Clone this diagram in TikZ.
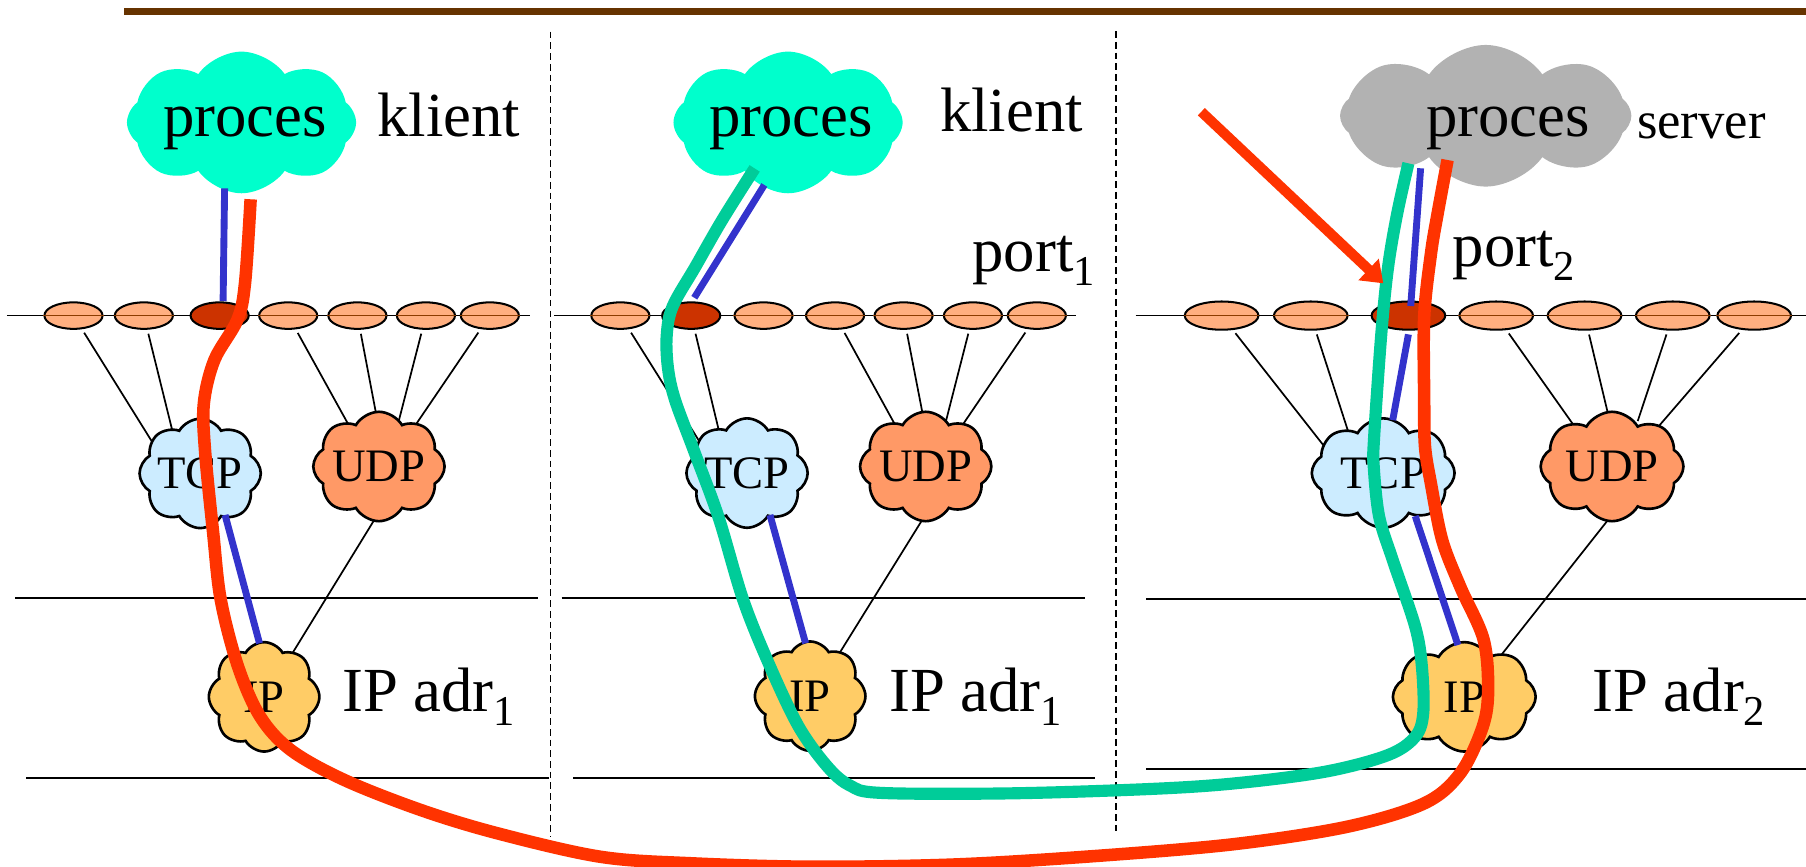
\documentclass[tikz,border=0pt]{standalone}
\usepackage{fontspec}
\setmainfont{Liberation Serif}
\usetikzlibrary{shapes.symbols,shapes.geometric,arrows.meta,calc}
\pgfdeclarelayer{bg}
\pgfsetlayers{bg,main}

\definecolor{barbrown}{HTML}{663300}
\definecolor{proccyan}{HTML}{00FFCC}
\definecolor{procgrey}{HTML}{B2B2B2}
\definecolor{tcpblue}{HTML}{CCECFF}
\definecolor{udporange}{HTML}{FF9966}
\definecolor{ipyellow}{HTML}{FFCC66}
\definecolor{portfill}{HTML}{FFAF80}
\definecolor{portdark}{HTML}{CC3300}
\definecolor{portline}{HTML}{8C3C00}
\definecolor{flowred}{HTML}{FF3300}
\definecolor{flowgreen}{HTML}{00CC99}
\definecolor{linkblue}{HTML}{3333CC}

\newcommand\subidx[1]{\raisebox{-7pt}{\fontsize{21}{21}\selectfont #1}}

\begin{document}
\begin{tikzpicture}[x=0.02cm,y=-0.02cm,
  txt/.style={inner sep=0pt, font=\fontsize{31}{36}\selectfont},
  smalltxt/.style={inner sep=0pt, font=\fontsize{26}{30}\selectfont},
  portA/.style={ellipse, draw, line width=1pt, fill=portfill, inner sep=0pt,
    minimum width=1.01cm, minimum height=0.46cm},
  portB/.style={portA, minimum width=1.28cm, minimum height=0.49cm},
  active/.style={fill=portdark},
  proccloud/.style={cloud, cloud puffs=8, cloud puff arc=110, cloud ignores aspect,
    inner sep=0pt, minimum width=3.98cm, minimum height=2.46cm},
  stackcloud/.style={cloud, cloud puffs=8, cloud puff arc=120, cloud ignores aspect,
    draw, line width=1.3pt, inner sep=0pt, minimum width=1.92cm, minimum height=1.9cm,
    font=\fontsize{23}{26}\selectfont},
  wide/.style={minimum width=2.48cm},
  link/.style={line width=0.85pt, shorten <=2pt, shorten >=-4pt},
  inner/.style={line width=0.85pt},
  layer/.style={line width=1pt},
  divider/.style={line width=0.9pt, dash pattern=on 3.3pt off 2pt},
  bl/.style={linkblue, line width=3.4pt},
  redflow/.style={flowred, line width=6.2pt, line join=round},
  greenflow/.style={flowgreen, line width=6pt, line join=round},
  pointer/.style={flowred, line width=5pt, -{Triangle[length=10pt,width=14pt]}}
]
\useasboundingbox (0,0) rectangle (1568,752);

% title rule and panel dividers
\draw[barbrown, line width=3.6pt] (108,10) -- (1568,10);
\draw[divider] (478,27.5) -- (478,727);
\draw[divider] (969,27) -- (969,722);

% port rows
\draw[inner] (6,274) -- (460,274);
\draw[inner] (481,274) -- (934,274);
\draw[inner] (986,274) -- (1568,274);

% layer boundaries
\draw[layer] (13.3,519.5) -- (466.8,519.5);
\draw[layer] (22.6,675.2) -- (476.8,675.2);
\draw[layer] (487.5,519.5) -- (941.7,519.5);
\draw[layer] (497.5,675.2) -- (951,675.2);
\draw[layer] (995.3,520.4) -- (1568,520.4);
\draw[layer] (995.3,668) -- (1568,668);

% ports, panel 1
\foreach \n/\x in {1/63.8,2/124.9,4/250.2,5/310.3,6/369.8,7/425.3}
  \node[portA] (a\n) at (\x,274) {};
\node[portA, active] (a3) at (190.7,274) {};
% ports, panel 2
\foreach \n/\x in {1/538.6,3/662.9,4/725,5/784.5,6/844.7,7/900.2}
  \node[portA] (b\n) at (\x,274) {};
\node[portA, active] (b2) at (600.1,274) {};
% ports, panel 3
\foreach \n/\x in {1/1060.6,2/1138,4/1299,5/1375.7,6/1452.3,7/1523}
  \node[portB] (c\n) at (\x,274) {};
\node[portB, active] (c3) at (1222.8,274) {};
% the row line shows through the light ports
\foreach \p in {a1,a2,a4,a5,a6,a7,b1,b3,b4,b5,b6,b7,c1,c2,c4,c5,c6,c7}
  \draw[portline, line width=0.8pt] (\p.west) -- (\p.east);

% process clouds
\node[proccloud, fill=proccyan] (pc1) at (209.7,106.3) {};
\node[proccloud, fill=proccyan] (pc2) at (684.2,106.3) {};
\node[proccloud, fill=procgrey, minimum width=5.06cm] (pc3) at (1289.9,100.5) {};
\node[txt, anchor=base] (pt1) at (212.6,118.7) {proces};
\node[txt, anchor=base] (pt2) at (686.8,118.7) {proces};
\node[txt, anchor=base] (pt3) at (1309.4,118.7) {proces};

% protocol clouds
\node[stackcloud, fill=tcpblue] (t1) at (173.8,411) {TCP};
\node[stackcloud, fill=udporange] (u1) at (329,405) {UDP};
\node[stackcloud, fill=ipyellow] (i1) at (229.3,605) {IP};
\node[stackcloud, fill=tcpblue] (t2) at (648.6,410.7) {TCP};
\node[stackcloud, fill=udporange] (u2) at (803.7,405) {UDP};
\node[stackcloud, fill=ipyellow] (i2) at (703.4,604.4) {IP};
\node[stackcloud, wide, fill=tcpblue] (t3) at (1200.9,410.7) {TCP};
\node[stackcloud, wide, fill=udporange] (u3) at (1399.6,405) {UDP};
\node[stackcloud, wide, fill=ipyellow] (i3) at (1271.3,605) {IP};

% where the port lines meet the clouds
\coordinate (ka1) at (130.2,380.6);
\coordinate (ka2) at (150.2,376.2);
\coordinate (ka4) at (304,371.3);
\coordinate (ka5) at (326.3,358);
\coordinate (ka6) at (347.9,358.9);
\coordinate (ka7) at (359.8,370.4);
\coordinate (kb1) at (605.2,380);
\coordinate (kb2) at (624.7,376.2);
\coordinate (kb4) at (778.5,371.3);
\coordinate (kb5) at (800.8,358);
\coordinate (kb6) at (823,358.9);
\coordinate (kb7) at (834.7,370.4);
\coordinate (kc1) at (1145.4,382);
\coordinate (kc2) at (1171.2,376.8);
\coordinate (kc4) at (1368.2,371.9);
\coordinate (kc5) at (1396,358.9);
\coordinate (kc6) at (1424.1,358.9);
\coordinate (kc7) at (1439.8,370.4);

\begin{pgfonlayer}{bg}
  \foreach \p in {a1,a2,a4,a5,a6,a7,b1,b2,b4,b5,b6,b7,c1,c2,c4,c5,c6,c7}
    \draw[link] (\p) -- (k\p);
  \draw[inner] ($(u1)+(-0.8,41.1)$) -- ($(i1)+(21.7,-33.2)$);
  \draw[inner] ($(u2)+(-0.3,42)$) -- ($(i2)+(22.5,-32.6)$);
  \draw[inner] ($(u3)+(-0.9,43.1)$) -- ($(i3)+(29.4,-32.9)$);
\end{pgfonlayer}

% labels
\node[txt, anchor=base west] (kl1) at (327.3,118.7) {klient};
\node[txt, anchor=base west] (kl2) at (815.8,114.3) {klient};
\node[smalltxt, anchor=base west] (sv) at (1421,120.1) {server};
\node[txt, anchor=base west] (po1) at (843.9,235.9) {port\subidx{1}};
\node[txt, anchor=base west] (po2) at (1261,231.5) {port\subidx{2}};
\node[txt, anchor=base west] (ad1) at (296.7,617.9) {IP adr\subidx{1}};
\node[txt, anchor=base west] (ad2) at (771.6,617.9) {IP adr\subidx{1}};
\node[txt, anchor=base west] (ad3) at (1382.2,617.9) {IP adr\subidx{2}};

% bound sockets
\draw[bl] ($(pc1)+(-14.7,57.2)$) -- ($(a3)+(3,-12.7)$);
\draw[bl] ($(t1)+(21.6,36.1)$) -- ($(i1)+(-4,-46.5)$);
\draw[bl] ($(pc2)+(-20.6,54.3)$) -- ($(b2)+(2.7,-15.5)$);
\draw[bl] ($(t2)+(19.9,36.4)$) -- ($(i2)+(-4,-45.9)$);
\draw[bl] ($(pc3)+(-56.5,45.6)$) -- ($(c3)+(2,-8.3)$);
\draw[bl] ($(c3)+(0,16.3)$) -- ($(t3)+(8.3,-46)$);
\draw[bl] ($(t3)+(27.8,37.3)$) -- ($(i3)+(-5.5,-45)$);

% connection from the second client to the server
\draw[greenflow] plot[smooth, tension=0.55] coordinates {
  (655.2,146.2) (627,191) (603.8,231.5) (583.9,266.3) (578.8,292) (580,320)
  (586,347) (602,390) (623.7,448.6) (645.3,521) (668.6,578.8) (693.5,631)
  (718.4,665.6) (738,682) (765,688.4) (876.2,688.8) (998.4,685) (1072.2,680.1)
  (1150.5,670) (1205.2,655.5) (1228.7,639.6) (1235.7,619) (1234.5,578.8)
  (1228.7,544.1) (1209.2,486.2) (1197.4,448.6) (1192.7,405.2) (1193,380)
  (1199.3,289.4) (1205.2,231.5) (1213.1,185.2) (1222.8,141.8)};

% connection from the first client to the server
\draw[redflow] plot[smooth, tension=0.55] coordinates {
  (217.6,173) (212.7,246) (206,277.8) (186.1,312.6) (177,350) (178,391)
  (185.1,463) (191.7,521) (206.7,578.8) (225.9,622.2) (252.5,651.2) (299,677.2)
  (365.5,703.3) (432,723.5) (521,743.8) (600,749.5) (705,752.5) (830,750.5)
  (955,742.9) (1072.2,732.8) (1170,717.7) (1236.5,697.5) (1267.8,671.4)
  (1287.3,631) (1292,599) (1288,555) (1267.8,509.4) (1252.1,468.8)
  (1242.3,419.6) (1237.2,387.8) (1236.5,347.3) (1236.5,275) (1242.4,220)
  (1248.2,185.2) (1256.8,138.9)};

% the well-known server port
\coordinate (arrtail) at (1043,97);
\draw[pointer] (arrtail) -- ($(c3)+(-21.8,-28)$);
\end{tikzpicture}
\end{document}
